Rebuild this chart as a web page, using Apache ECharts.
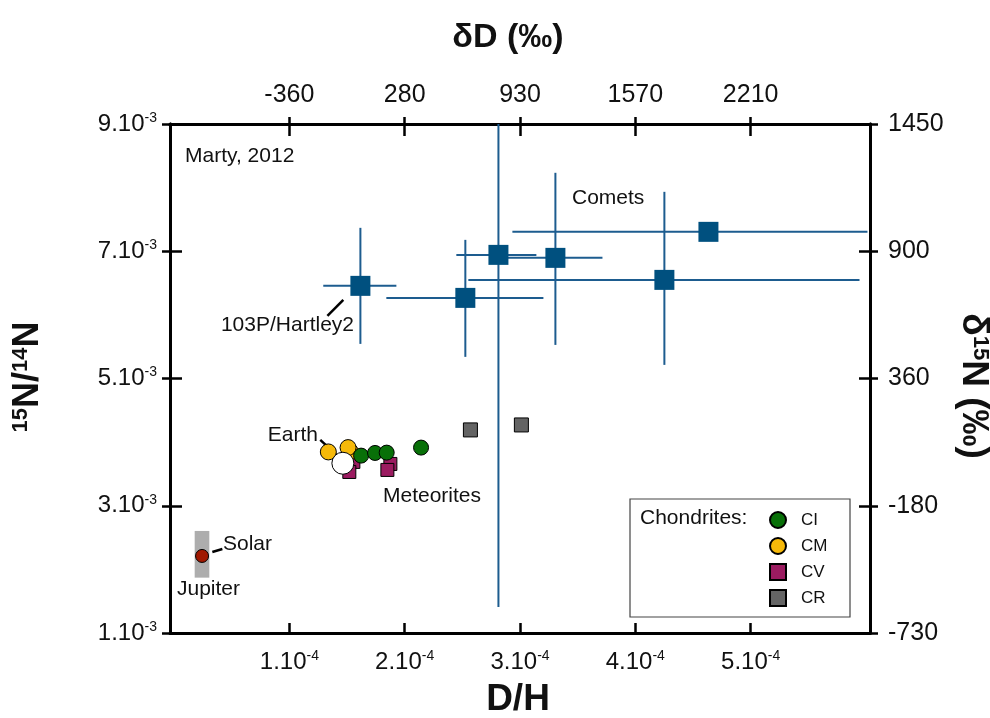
<!DOCTYPE html>
<html>
<head>
<meta charset="utf-8">
<script src="https://cdn.jsdelivr.net/npm/echarts@6/dist/echarts.min.js"></script>
<style>html,body{margin:0;padding:0;background:#fff;}#c{width:990px;height:718px;}</style>
</head>
<body>
<div id="c"></div>
<script>
// ---- Data (D/H in units of 1e-4, 15N/14N in units of 1e-3) ----
var cometDH    = [1.616, 2.526, 2.813, 3.307, 4.252, 4.634];
var cometN     = [6.456, 6.267, 6.943, 6.896, 6.550, 7.305];
var cometDHlo  = [1.294, 1.841, 2.448, 2.856, 2.552, 2.934];
var cometDHhi  = [1.928, 3.203, 3.142, 3.715, 5.944, 6.013];
var cometNlo   = [5.544, 5.340, 1.409, 5.528, 5.214, null];
var cometNhi   = [7.368, 7.179, 9.000, 8.233, 7.934, null];

var ciDH = [1.622, 1.743, 1.844, 2.142];
var ciN  = [3.788, 3.830, 3.835, 3.914];
var cmDH = [1.338, 1.529, 1.509];
var cmN  = [3.846, 3.851, 3.914];
var cvDH = [1.555, 1.520, 1.876, 1.850];
var cvN  = [3.689, 3.531, 3.657, 3.563];
var crDH = [2.570, 3.012];
var crN  = [4.192, 4.270];

var earthDH = [1.464];
var earthN  = [3.668];
var solarDH = [0.243];
var solarN  = [2.211];
var jupiterDHrange = [0.179, 0.306];
var jupiterNrange  = [1.870, 2.604];

// leader lines [x1, y1, x2, y2] in data units
var leaderHartley = [1.468, 6.236, 1.330, 5.984];
var leaderEarth   = [1.268, 4.035, 1.408, 3.799];
var leaderSolar   = [0.332, 2.274, 0.419, 2.321];

// ---- Tick labels ----
var xTickValues   = [1, 2, 3, 4, 5];
var xBottomLabels = ['1.10', '2.10', '3.10', '4.10', '5.10'];
var xBottomExp    = '-4';
var xTopLabels    = ['-360', '280', '930', '1570', '2210'];
var yLeftLabels   = ['1.10', '3.10', '5.10', '7.10', '9.10'];
var yLeftExp      = '-3';
var yRightLabels  = ['-730', '-180', '360', '900', '1450'];

var FONT = "'Liberation Sans', Arial, Helvetica, sans-serif";
var SQUARE = 'path://M0,0L10,0L10,10L0,10Z';

function zip(a, b) { return a.map(function (v, i) { return [v, b[i]]; }); }

var cometErr = cometDH.map(function (v, i) {
  return [v, cometN[i], cometDHlo[i], cometDHhi[i],
          cometNlo[i] == null ? '-' : cometNlo[i], cometNhi[i] == null ? '-' : cometNhi[i]];
});

var XMIN = -0.035, XMAX = 6.035, YMIN = 1, YMAX = 9;

var sciRich = {
  m: { fontSize: 24, lineHeight: 26, fontFamily: FONT, color: '#111' },
  e: { fontSize: 14, lineHeight: 14, verticalAlign: 'top', fontFamily: FONT, color: '#111' }
};

function baseX(extra) {
  var o = { type: 'value', min: XMIN, max: XMAX, splitLine: { show: false },
    axisLine: { show: true, onZero: false, lineStyle: { color: '#000', width: 3 } } };
  for (var k in extra) o[k] = extra[k];
  return o;
}
function baseY(extra) {
  var o = { type: 'value', min: YMIN, max: YMAX, interval: 2, splitLine: { show: false },
    axisLine: { show: true, onZero: false, lineStyle: { color: '#000', width: 3 } } };
  for (var k in extra) o[k] = extra[k];
  return o;
}

var option = {
  animation: false,
  backgroundColor: '#fff',
  grid: { left: 170, right: 120, top: 124, bottom: 85, containLabel: false },
  xAxis: [
    baseX({ position: 'bottom',
      axisTick: { show: true, inside: true, length: 10, customValues: xTickValues, lineStyle: { color: '#000', width: 2.5 } },
      axisLabel: { show: true, margin: 16, customValues: xTickValues, rich: sciRich,
        formatter: function (v) { return '{m|' + xBottomLabels[Math.round(v) - 1] + '}{e|' + xBottomExp + '}'; } } }),
    baseX({ position: 'top',
      axisTick: { show: true, inside: false, length: 7, customValues: xTickValues, lineStyle: { color: '#000', width: 2.5 } },
      axisLabel: { show: true, margin: 16, customValues: xTickValues, fontSize: 25, fontFamily: FONT, color: '#111',
        formatter: function (v) { return xTopLabels[Math.round(v) - 1]; } } }),
    baseX({ position: 'top',
      axisTick: { show: true, inside: true, length: 12, customValues: xTickValues, lineStyle: { color: '#000', width: 2.5 } },
      axisLabel: { show: false } })
  ],
  yAxis: [
    baseY({ position: 'left',
      axisTick: { show: true, inside: false, length: 8, lineStyle: { color: '#000', width: 2.5 } },
      axisLabel: { show: true, margin: 13, rich: sciRich,
        formatter: function (v) { return '{m|' + yLeftLabels[Math.round((v - 1) / 2)] + '}{e|' + yLeftExp + '}'; } } }),
    baseY({ position: 'right',
      axisTick: { show: true, inside: false, length: 8, lineStyle: { color: '#000', width: 2.5 } },
      axisLabel: { show: true, margin: 18, fontSize: 25, fontFamily: FONT, color: '#111',
        formatter: function (v) { return yRightLabels[Math.round((v - 1) / 2)]; } } }),
    baseY({ position: 'left',
      axisTick: { show: true, inside: true, length: 12, lineStyle: { color: '#000', width: 2.5 } },
      axisLabel: { show: false } }),
    baseY({ position: 'right',
      axisTick: { show: true, inside: true, length: 11, lineStyle: { color: '#000', width: 2.5 } },
      axisLabel: { show: false } })
  ],
  legend: {
    data: [
      { name: 'CI', icon: 'circle' },
      { name: 'CM', icon: 'circle' },
      { name: 'CV', icon: SQUARE },
      { name: 'CR', icon: SQUARE }
    ],
    orient: 'vertical', left: 769, top: 511, padding: 0,
    itemWidth: 30, itemHeight: 16, itemGap: 8,
    symbolKeepAspect: true,
    selectedMode: false,
    textStyle: { fontSize: 17, fontFamily: FONT, color: '#111', lineHeight: 18, padding: [0, 0, 0, 3] }
  },
  series: [
    { name: 'cometErr', type: 'custom', xAxisIndex: 0, yAxisIndex: 0, data: cometErr,
      dimensions: ['x', 'y', 'xlo', 'xhi', 'ylo', 'yhi'], encode: { x: 0, y: 1 }, silent: true,
      renderItem: function (params, api) {
        var x = api.value(0), y = api.value(1);
        var st = { stroke: '#1d5c8f', lineWidth: 2 };
        var ch = [];
        var a = api.coord([api.value(2), y]), b = api.coord([api.value(3), y]);
        ch.push({ type: 'line', shape: { x1: a[0], y1: a[1], x2: b[0], y2: b[1] }, style: st });
        var lo = api.value(4), hi = api.value(5);
        if (!isNaN(lo) && !isNaN(hi)) {
          var c = api.coord([x, lo]), d = api.coord([x, hi]);
          ch.push({ type: 'line', shape: { x1: c[0], y1: c[1], x2: d[0], y2: d[1] }, style: st });
        }
        return { type: 'group', children: ch };
      } },
    { name: 'Comets', type: 'scatter', data: zip(cometDH, cometN), symbol: 'rect', symbolSize: 20,
      itemStyle: { color: '#00507f', opacity: 1 }, silent: true },
    { name: 'Jupiter', type: 'custom', data: [[jupiterDHrange[0], jupiterDHrange[1], jupiterNrange[0], jupiterNrange[1]]],
      encode: { x: [0, 1], y: [2, 3] }, silent: true,
      renderItem: function (params, api) {
        var p1 = api.coord([api.value(0), api.value(3)]);
        var p2 = api.coord([api.value(1), api.value(2)]);
        return { type: 'rect', shape: { x: p1[0], y: p1[1], width: p2[0] - p1[0], height: p2[1] - p1[1] },
          style: { fill: '#adadad' } };
      } },
    { name: 'Solar', type: 'scatter', data: zip(solarDH, solarN), symbol: 'circle', symbolSize: 13,
      itemStyle: { color: '#a01800', borderColor: '#000', borderWidth: 1, opacity: 1 }, silent: true },
    { name: 'CR', type: 'scatter', data: zip(crDH, crN), symbol: 'rect', symbolSize: 14,
      itemStyle: { color: '#646464', borderColor: '#000', borderWidth: 1, opacity: 1 }, silent: true },
    { name: 'CV', type: 'scatter', data: zip(cvDH, cvN), symbol: 'rect', symbolSize: 13,
      itemStyle: { color: '#9b1b60', borderColor: '#000', borderWidth: 1, opacity: 1 }, silent: true },
    { name: 'CM', type: 'scatter', data: zip(cmDH, cmN), symbol: 'circle', symbolSize: 16,
      itemStyle: { color: '#f6b90a', borderColor: '#000', borderWidth: 1, opacity: 1 }, silent: true },
    { name: 'CI', type: 'scatter', data: zip(ciDH, ciN), symbol: 'circle', symbolSize: 15,
      itemStyle: { color: '#087008', borderColor: '#000', borderWidth: 1, opacity: 1 }, silent: true },
    { name: 'Earth', type: 'scatter', data: zip(earthDH, earthN), symbol: 'circle', symbolSize: 22,
      itemStyle: { color: '#fff', borderColor: '#000', borderWidth: 1, opacity: 1 }, silent: true },
    { name: 'leaders', type: 'custom', data: [leaderHartley, leaderEarth, leaderSolar],
      encode: { x: [0, 2], y: [1, 3] }, silent: true,
      renderItem: function (params, api) {
        var a = api.coord([api.value(0), api.value(1)]), b = api.coord([api.value(2), api.value(3)]);
        return { type: 'line', shape: { x1: a[0], y1: a[1], x2: b[0], y2: b[1] },
          style: { stroke: '#000', lineWidth: 2.5 } };
      } }
  ],
  graphic: [
    { type: 'text', left: 185, top: 146, style: { text: 'Marty, 2012', font: '21px ' + FONT, fill: '#111' } },
    { type: 'text', left: 572, top: 188, style: { text: 'Comets', font: '21px ' + FONT, fill: '#111' } },
    { type: 'text', x: 354, y: 325, style: { text: '103P/Hartley2', font: '21px ' + FONT, fill: '#111', align: 'right', verticalAlign: 'middle' } },
    { type: 'text', x: 318, y: 435, style: { text: 'Earth', font: '21px ' + FONT, fill: '#111', align: 'right', verticalAlign: 'middle' } },
    { type: 'text', x: 383, y: 496, style: { text: 'Meteorites', font: '21px ' + FONT, fill: '#111', align: 'left', verticalAlign: 'middle' } },
    { type: 'text', x: 223, y: 544, style: { text: 'Solar', font: '21px ' + FONT, fill: '#111', align: 'left', verticalAlign: 'middle' } },
    { type: 'text', x: 177, y: 589, style: { text: 'Jupiter', font: '21px ' + FONT, fill: '#111', align: 'left', verticalAlign: 'middle' } },
    { type: 'rect', shape: { x: 630, y: 499, width: 220, height: 118 }, style: { fill: 'rgba(0,0,0,0)', stroke: '#444', lineWidth: 1.2 }, z: 1 },
    { type: 'text', x: 640, y: 518, style: { text: 'Chondrites:', font: '21px ' + FONT, fill: '#111', align: 'left', verticalAlign: 'middle' } },
    { type: 'text', x: 508, y: 38, style: { text: 'δD (‰)', font: 'bold 34px ' + FONT, fill: '#111', align: 'center', verticalAlign: 'middle' } },
    { type: 'text', x: 518, y: 700, style: { text: 'D/H', font: 'bold 37px ' + FONT, fill: '#111', align: 'center', verticalAlign: 'middle' } },
    { type: 'text', x: 28, y: 377, rotation: Math.PI / 2,
      style: { text: '{s|15}{b|N/}{s|14}{b|N}', align: 'center', verticalAlign: 'middle',
        rich: { b: { fontSize: 36, fontWeight: 'bold', fontFamily: FONT, lineHeight: 36, fill: '#111' },
                s: { fontSize: 22, fontWeight: 'bold', fontFamily: FONT, lineHeight: 22, verticalAlign: 'top', fill: '#111' } } } },
    { type: 'text', x: 973, y: 386, rotation: -Math.PI / 2,
      style: { text: '{b|δ}{s|15}{b|N (‰)}', align: 'center', verticalAlign: 'middle',
        rich: { b: { fontSize: 37, fontWeight: 'bold', fontFamily: FONT, lineHeight: 36, fill: '#111' },
                s: { fontSize: 22, fontWeight: 'bold', fontFamily: FONT, lineHeight: 22, verticalAlign: 'top', fill: '#111' } } } }
  ]
};

var chart = echarts.init(document.getElementById('c'), null, { renderer: 'canvas' });
chart.setOption(option);
</script>
</body>
</html>
